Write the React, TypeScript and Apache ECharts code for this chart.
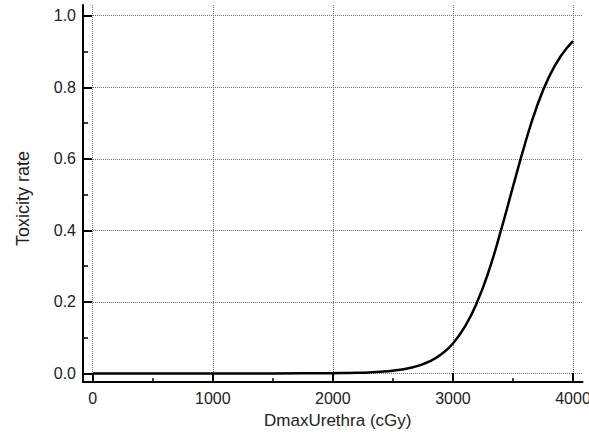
import React, { useEffect, useRef } from "react";
import * as echarts from "echarts";

// Dose (cGy) and modelled toxicity rate
const doseValues = [0, 500, 1000, 1500, 2000, 2100, 2200, 2300, 2400, 2500, 2600, 2700, 2800, 2900, 3000, 3100, 3200, 3300, 3400, 3500, 3600, 3700, 3800, 3900, 4000];
const toxicityValues = [0, 0, 0, 0, 0.0006, 0.0011, 0.0017, 0.0028, 0.0046, 0.0076, 0.0124, 0.0203, 0.0328, 0.0528, 0.0838, 0.131, 0.198, 0.288, 0.4, 0.522, 0.642, 0.747, 0.829, 0.888, 0.929];

const xMajorTicks = [0, 1000, 2000, 3000, 4000];
const xMinorTicks = [500, 1500, 2500, 3500];
const yMajorTicks = [0, 0.2, 0.4, 0.6, 0.8, 1.0];
const yMinorTicks = [0.1, 0.3, 0.5, 0.7, 0.9];

const X_MIN = -81;
const X_MAX = 4079;
const Y_MIN = -0.024;
const Y_MAX = 1.03;

const FONT = "'Liberation Sans', Arial, sans-serif";
const TEXT = "#222";

export default function App() {
  const ref = useRef<HTMLDivElement>(null);

  useEffect(() => {
    if (!ref.current) return;
    const chart = echarts.init(ref.current, undefined, { renderer: "svg" });
    const data = doseValues.map((d, i) => [d, toxicityValues[i]]);

    const splitLine = {
      show: true,
      lineStyle: { color: "#707070", width: 1, type: "dotted" as const },
    };

    chart.setOption({
      animation: false,
      backgroundColor: "#fff",
      grid: {
        left: 83,
        right: 6.5,
        top: 5,
        bottom: 50,
        containLabel: false,
        outerBoundsMode: "none",
      },
      xAxis: [
        {
          type: "value",
          position: "bottom",
          min: X_MIN,
          max: X_MAX,
          name: "DmaxUrethra (cGy)",
          nameLocation: "middle",
          nameGap: 30,
          nameTextStyle: {
            fontFamily: FONT,
            fontSize: 17,
            color: TEXT,
            padding: [0, 0, 0, 10],
          },
          axisLine: { show: true, onZero: false, lineStyle: { color: "#000", width: 2 } },
          axisTick: {
            show: true,
            inside: true,
            length: 9,
            customValues: xMajorTicks,
            lineStyle: { color: "#000", width: 2 },
          },
          axisLabel: {
            show: true,
            customValues: xMajorTicks,
            fontFamily: FONT,
            fontSize: 16,
            color: TEXT,
            margin: 8,
            formatter: (v: number) => String(Math.round(v)),
          },
          splitLine,
          minorTick: { show: false },
        },
        {
          type: "value",
          position: "bottom",
          min: X_MIN,
          max: X_MAX,
          axisLine: { show: false, onZero: false },
          axisTick: {
            show: true,
            inside: true,
            length: 4,
            customValues: xMinorTicks,
            lineStyle: { color: "#000", width: 1.5 },
          },
          axisLabel: { show: false },
          splitLine: { show: false },
        },
      ],
      yAxis: [
        {
          type: "value",
          position: "left",
          min: Y_MIN,
          max: Y_MAX,
          name: "Toxicity rate",
          nameLocation: "middle",
          nameGap: 51,
          nameTextStyle: {
            fontFamily: FONT,
            fontSize: 18,
            color: TEXT,
            padding: [0, 10, 0, 0],
          },
          axisLine: { show: true, onZero: false, lineStyle: { color: "#000", width: 2 } },
          axisTick: {
            show: true,
            inside: true,
            length: 9,
            customValues: yMajorTicks,
            lineStyle: { color: "#000", width: 2 },
          },
          axisLabel: {
            show: true,
            customValues: yMajorTicks,
            fontFamily: FONT,
            fontSize: 16,
            color: TEXT,
            margin: 7,
            formatter: (v: number) => v.toFixed(1),
          },
          splitLine,
        },
        {
          type: "value",
          position: "left",
          min: Y_MIN,
          max: Y_MAX,
          axisLine: { show: false, onZero: false },
          axisTick: {
            show: true,
            inside: true,
            length: 5,
            customValues: yMinorTicks,
            lineStyle: { color: "#000", width: 1.5 },
          },
          axisLabel: { show: false },
          splitLine: { show: false },
        },
      ],
      series: [
        {
          type: "line",
          xAxisIndex: 0,
          yAxisIndex: 0,
          data,
          showSymbol: false,
          symbol: "none",
          smooth: true,
          lineStyle: { color: "#000", width: 2.5 },
          z: 5,
        },
      ],
    });

    return () => chart.dispose();
  }, []);

  return (
    <div
      ref={ref}
      style={{ position: "absolute", left: 0, top: 0, width: 589, height: 432, background: "#fff" }}
    />
  );
}
